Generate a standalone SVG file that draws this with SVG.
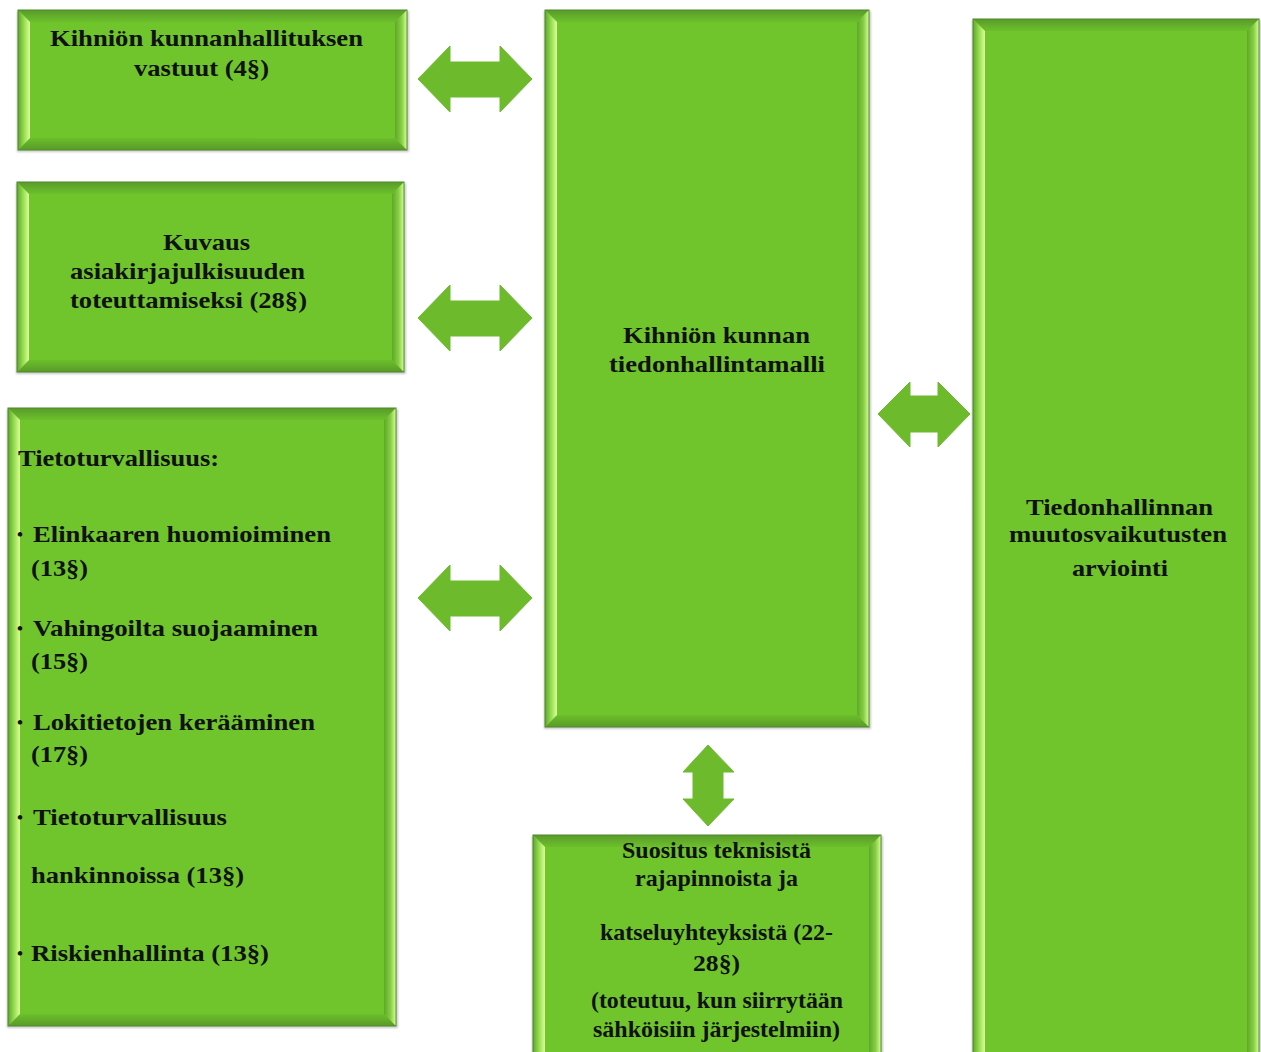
<svg xmlns="http://www.w3.org/2000/svg" width="1261" height="1052" viewBox="0 0 1261 1052">
<defs>
<linearGradient id="gl" x1="0" y1="0" x2="1" y2="0"><stop offset="0" stop-color="#5fa52b"/><stop offset="0.45" stop-color="#8ed84a"/><stop offset="1" stop-color="#dcff98"/></linearGradient>
<linearGradient id="gr" x1="0" y1="0" x2="1" y2="0"><stop offset="0" stop-color="#5ea828"/><stop offset="0.55" stop-color="#86cf45"/><stop offset="1" stop-color="#d8ff96"/></linearGradient>
<linearGradient id="gt" x1="0" y1="0" x2="0" y2="1"><stop offset="0" stop-color="#5a9a2b"/><stop offset="1" stop-color="#6cc02b"/></linearGradient>
<linearGradient id="gb" x1="0" y1="0" x2="0" y2="1"><stop offset="0" stop-color="#6bbf2b"/><stop offset="1" stop-color="#5a9a28"/></linearGradient>
<filter id="sh" x="-5%" y="-5%" width="110%" height="110%"><feGaussianBlur stdDeviation="1.2"/></filter>
</defs>
<style>
.face{fill:#6fc52b}
.sh{fill:#9a9a9a;opacity:0.55;filter:url(#sh)}
.bl{fill:url(#gl)}.br{fill:url(#gr)}.bt{fill:url(#gt)}.bb{fill:url(#gb)}
.ol{fill:none;stroke:#4e8a2c;stroke-width:1}
.arr{fill:#6dbb2d;stroke:#6dbb2d;stroke-width:1;stroke-linejoin:round}
text{font-family:"Liberation Serif","Times New Roman",serif;font-weight:bold;font-size:24px;fill:#111}
.bul{font-size:17px}
</style>
<rect width="1261" height="1052" fill="#ffffff"/>

<g id="node-kunnanhallitus">
<rect class="sh" x="17" y="11" width="392" height="141"/>
<rect class="face" x="18" y="10" width="389" height="140"/>
<polygon class="bt" points="18,10 407,10 395,22 30,22"/>
<polygon class="bb" points="18,150 407,150 395,138 30,138"/>
<polygon class="bl" points="18,10 30,22 30,138 18,150"/>
<polygon class="br" points="395,22 407,10 407,150 395,138"/>
<rect class="ol" x="18" y="10" width="389" height="140"/>
<text x="50" y="46" textLength="313" lengthAdjust="spacingAndGlyphs">Kihniön kunnanhallituksen</text>
<text x="134" y="76" textLength="135" lengthAdjust="spacingAndGlyphs">vastuut (4§)</text>
</g>

<g id="node-kuvaus">
<rect class="sh" x="16" y="183" width="390" height="191"/>
<rect class="face" x="17" y="182" width="387" height="190"/>
<polygon class="bt" points="17,182 404,182 392,194 29,194"/>
<polygon class="bb" points="17,372 404,372 392,360 29,360"/>
<polygon class="bl" points="17,182 29,194 29,360 17,372"/>
<polygon class="br" points="392,194 404,182 404,372 392,360"/>
<rect class="ol" x="17" y="182" width="387" height="190"/>
<text x="163" y="250" textLength="87" lengthAdjust="spacingAndGlyphs">Kuvaus</text>
<text x="70" y="279" textLength="235" lengthAdjust="spacingAndGlyphs">asiakirjajulkisuuden</text>
<text x="70" y="308" textLength="237" lengthAdjust="spacingAndGlyphs">toteuttamiseksi (28§)</text>
</g>

<g id="node-tietoturvallisuus">
<rect class="sh" x="7" y="409" width="391" height="619"/>
<rect class="face" x="8" y="408" width="388" height="618"/>
<polygon class="bt" points="8,408 396,408 384,420 20,420"/>
<polygon class="bb" points="8,1026 396,1026 384,1014 20,1014"/>
<polygon class="bl" points="8,408 20,420 20,1014 8,1026"/>
<polygon class="br" points="384,420 396,408 396,1026 384,1014"/>
<rect class="ol" x="8" y="408" width="388" height="618"/>
<text x="18" y="466" textLength="201" lengthAdjust="spacingAndGlyphs">Tietoturvallisuus:</text>
<text class="bul" x="17" y="540">•</text>
<text x="33" y="542" textLength="298" lengthAdjust="spacingAndGlyphs">Elinkaaren huomioiminen</text>
<text x="31" y="576" textLength="57" lengthAdjust="spacingAndGlyphs">(13§)</text>
<text class="bul" x="17" y="634">•</text>
<text x="33" y="636" textLength="285" lengthAdjust="spacingAndGlyphs">Vahingoilta suojaaminen</text>
<text x="31" y="669" textLength="57" lengthAdjust="spacingAndGlyphs">(15§)</text>
<text class="bul" x="17" y="728">•</text>
<text x="33" y="730" textLength="282" lengthAdjust="spacingAndGlyphs">Lokitietojen kerääminen</text>
<text x="31" y="762" textLength="57" lengthAdjust="spacingAndGlyphs">(17§)</text>
<text class="bul" x="17" y="823">•</text>
<text x="33" y="825" textLength="194" lengthAdjust="spacingAndGlyphs">Tietoturvallisuus</text>
<text x="31" y="883" textLength="213" lengthAdjust="spacingAndGlyphs">hankinnoissa (13§)</text>
<text class="bul" x="17" y="959">•</text>
<text x="31" y="961" textLength="238" lengthAdjust="spacingAndGlyphs">Riskienhallinta (13§)</text>
</g>

<g id="node-tiedonhallintamalli">
<rect class="sh" x="544" y="11" width="327" height="718"/>
<rect class="face" x="545" y="10" width="324" height="717"/>
<polygon class="bt" points="545,10 869,10 857,22 557,22"/>
<polygon class="bb" points="545,727 869,727 857,715 557,715"/>
<polygon class="bl" points="545,10 557,22 557,715 545,727"/>
<polygon class="br" points="857,22 869,10 869,727 857,715"/>
<rect class="ol" x="545" y="10" width="324" height="717"/>
<text x="623" y="343" textLength="187" lengthAdjust="spacingAndGlyphs">Kihniön kunnan</text>
<text x="609" y="372" textLength="216" lengthAdjust="spacingAndGlyphs">tiedonhallintamalli</text>
</g>

<g id="node-arviointi">
<rect class="sh" x="972" y="20" width="289" height="1040"/>
<rect class="face" x="973" y="19" width="286" height="1040"/>
<polygon class="bt" points="973,19 1259,19 1247,31 985,31"/>
<polygon class="bl" points="973,19 985,31 985,1059 973,1059"/>
<polygon class="br" points="1247,31 1259,19 1259,1059 1247,1059"/>
<rect class="ol" x="973" y="19" width="286" height="1040"/>
<text x="1026" y="515" textLength="187" lengthAdjust="spacingAndGlyphs">Tiedonhallinnan</text>
<text x="1009" y="542" textLength="218" lengthAdjust="spacingAndGlyphs">muutosvaikutusten</text>
<text x="1072" y="576" textLength="96" lengthAdjust="spacingAndGlyphs">arviointi</text>
</g>

<g id="node-suositus">
<rect class="sh" x="532" y="836" width="351" height="230"/>
<rect class="face" x="533" y="835" width="348" height="230"/>
<polygon class="bt" points="533,835 881,835 869,847 545,847"/>
<polygon class="bl" points="533,835 545,847 545,1065 533,1065"/>
<polygon class="br" points="869,847 881,835 881,1065 869,1065"/>
<rect class="ol" x="533" y="835" width="348" height="230"/>
<text x="622" y="858" textLength="189" lengthAdjust="spacingAndGlyphs">Suositus teknisistä</text>
<text x="635" y="886" textLength="163" lengthAdjust="spacingAndGlyphs">rajapinnoista ja</text>
<text x="600" y="940" textLength="233" lengthAdjust="spacingAndGlyphs">katseluyhteyksistä (22-</text>
<text x="693" y="971" textLength="47" lengthAdjust="spacingAndGlyphs">28§)</text>
<text x="591" y="1008" textLength="252" lengthAdjust="spacingAndGlyphs">(toteutuu, kun siirrytään</text>
<text x="593" y="1037" textLength="247" lengthAdjust="spacingAndGlyphs">sähköisiin järjestelmiin)</text>
</g>

<g id="connectors">
<polygon class="arr" points="418,79 450,46 450,62 500,62 500,46 532,79 500,112 500,97 450,97 450,112"/>
<polygon class="arr" points="418,318 450,285 450,301 500,301 500,285 532,318 500,351 500,336 450,336 450,351"/>
<polygon class="arr" points="418,598 450,565 450,581 500,581 500,565 532,598 500,631 500,616 450,616 450,631"/>
<polygon class="arr" points="878,414 910,382 910,396 938,396 938,382 970,414 938,447 938,432 910,432 910,447"/>
<polygon class="arr" points="708,745 734,772 723,772 723,799 734,799 708,826 683,799 693,799 693,772 683,772"/>
</g>
</svg>
